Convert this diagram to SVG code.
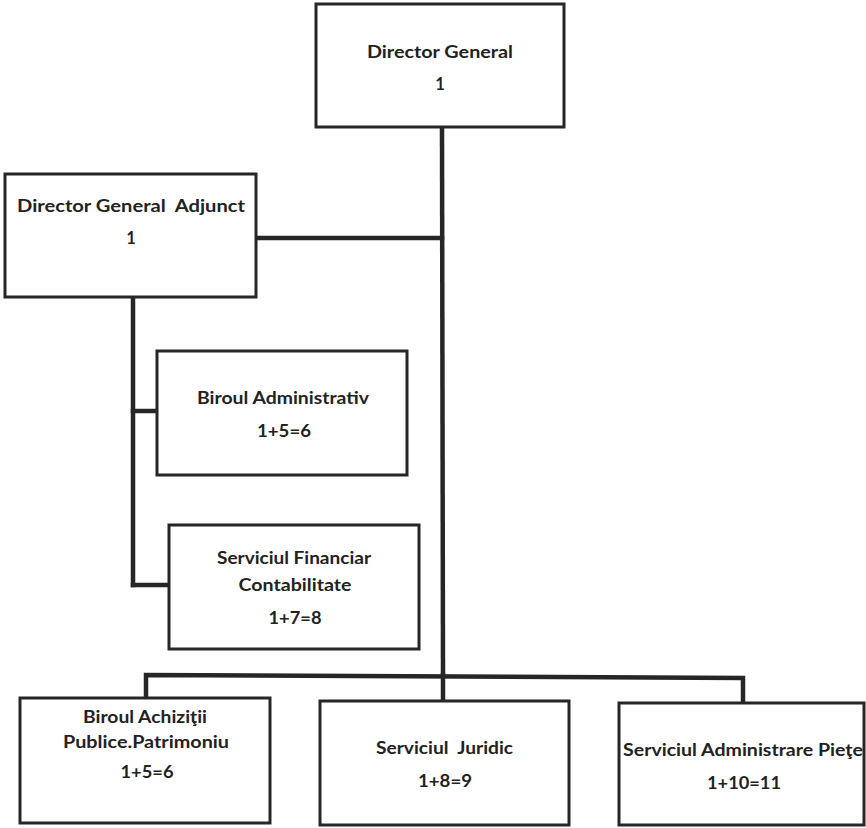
<svg xmlns="http://www.w3.org/2000/svg" width="866" height="828" viewBox="0 0 866 828">
<style>
.box{fill:#ffffff;stroke:#262626;stroke-width:3}
.lbl{font-family:Lato,"Open Sans","Liberation Sans",sans-serif;font-weight:bold;font-size:16.5px;fill:#222222;text-anchor:middle}
.con{stroke:#262626;stroke-width:4.5;fill:none;stroke-linecap:square}
</style>
<rect width="866" height="828" fill="#ffffff"/>
<g id="connectors">
<line class="con" x1="442" y1="127" x2="443" y2="675"/>
<line class="con" x1="256" y1="238" x2="442" y2="238"/>
<line class="con" x1="133" y1="297" x2="133" y2="585"/>
<line class="con" x1="133" y1="411" x2="157" y2="411"/>
<line class="con" x1="133" y1="585" x2="169" y2="585"/>
<polyline class="con" points="146,698 146,675 743,678 743,703"/>
<line class="con" x1="443" y1="675" x2="443" y2="701"/>
</g>
<g id="director-general">
<rect class="box" x="316" y="4" width="248" height="123"/>
<text class="lbl" x="440" y="58" textLength="146" lengthAdjust="spacingAndGlyphs">Director General</text>
<text class="lbl" x="440" y="90">1</text>
</g>
<g id="director-general-adjunct">
<rect class="box" x="5" y="174" width="251" height="123"/>
<text class="lbl" x="131" y="212" textLength="228" lengthAdjust="spacingAndGlyphs" xml:space="preserve">Director General  Adjunct</text>
<text class="lbl" x="131" y="244">1</text>
</g>
<g id="biroul-administrativ">
<rect class="box" x="157" y="351" width="250" height="124"/>
<text class="lbl" x="283" y="404" textLength="172" lengthAdjust="spacingAndGlyphs">Biroul Administrativ</text>
<text class="lbl" x="284" y="437" textLength="54" lengthAdjust="spacingAndGlyphs">1+5=6</text>
</g>
<g id="serviciul-financiar-contabilitate">
<rect class="box" x="169" y="525" width="250" height="124"/>
<text class="lbl" x="294" y="564" textLength="154" lengthAdjust="spacingAndGlyphs">Serviciul Financiar</text>
<text class="lbl" x="295" y="591" textLength="113" lengthAdjust="spacingAndGlyphs">Contabilitate</text>
<text class="lbl" x="295" y="624" textLength="53" lengthAdjust="spacingAndGlyphs">1+7=8</text>
</g>
<g id="biroul-achizitii">
<rect class="box" x="20" y="698" width="250" height="125"/>
<text class="lbl" x="145" y="723" textLength="124" lengthAdjust="spacingAndGlyphs">Biroul Achiziţii</text>
<text class="lbl" x="146" y="748" textLength="166" lengthAdjust="spacingAndGlyphs">Publice.Patrimoniu</text>
<text class="lbl" x="147" y="778" textLength="53" lengthAdjust="spacingAndGlyphs">1+5=6</text>
</g>
<g id="serviciul-juridic">
<rect class="box" x="320" y="701" width="249" height="124"/>
<text class="lbl" x="444.5" y="754" textLength="137" lengthAdjust="spacingAndGlyphs" xml:space="preserve">Serviciul  Juridic</text>
<text class="lbl" x="445" y="787" textLength="54" lengthAdjust="spacingAndGlyphs">1+8=9</text>
</g>
<g id="serviciul-administrare-piete">
<rect class="box" x="619" y="703" width="245" height="122"/>
<text class="lbl" x="743" y="756" textLength="240" lengthAdjust="spacingAndGlyphs">Serviciul Administrare Pieţe</text>
<text class="lbl" x="744" y="789" textLength="74" lengthAdjust="spacingAndGlyphs">1+10=11</text>
</g>
</svg>
